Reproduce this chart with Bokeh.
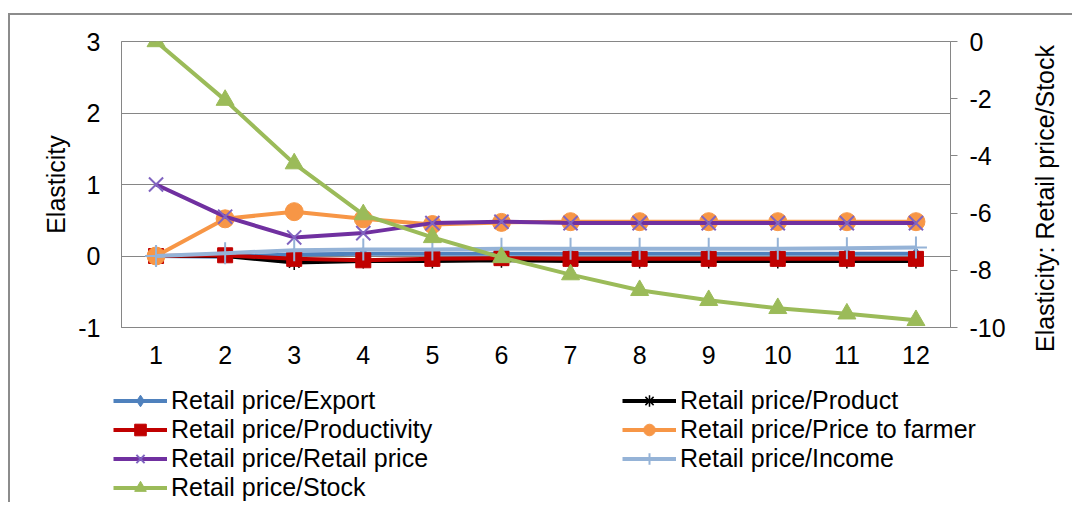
from bokeh.plotting import figure
from bokeh.layouts import column, row
from bokeh.models import Range1d, LinearAxis, FixedTicker, Legend, LegendItem, Label
from bokeh.embed import file_html
from bokeh.resources import INLINE

periods = [1, 2, 3, 4, 5, 6, 7, 8, 9, 10, 11, 12]
export = [0, -0.01, 0.02, 0.03, 0.03, 0.03, 0.03, 0.03, 0.03, 0.03, 0.03, 0.03]
product = [0, 0.0, -0.09, -0.07, -0.07, -0.06, -0.07, -0.07, -0.07, -0.07, -0.07, -0.07]
productivity = [0, 0.01, -0.04, -0.06, -0.04, -0.03, -0.04, -0.04, -0.04, -0.04, -0.04, -0.04]
price_to_farmer = [0, 0.52, 0.62, 0.52, 0.44, 0.47, 0.48, 0.48, 0.48, 0.48, 0.48, 0.48]
retail_price = [1.0, 0.55, 0.26, 0.32, 0.46, 0.48, 0.46, 0.46, 0.46, 0.46, 0.46, 0.46]
income = [0, 0.04, 0.08, 0.09, 0.09, 0.1, 0.1, 0.1, 0.1, 0.1, 0.11, 0.12]
stock = [0, -2.05, -4.27, -6.05, -6.85, -7.55, -8.15, -8.7, -9.05, -9.33, -9.52, -9.75]

left_ticks = [-1, 0, 1, 2, 3]
right_ticks = [-10, -8, -6, -4, -2, 0]
left_title = "Elasticity"
right_title = "Elasticity: Retail price/Stock"

FONT = "Liberation Sans"
FS = "25px"
GRID = "#868686"

def no_align(fig):
    try:
        fig.frame_align = False
    except Exception:
        pass

p = figure(width=1013, height=366, output_backend="svg", toolbar_location=None,
           x_range=Range1d(0.5, 12.5), y_range=Range1d(-1, 3),
           min_border_left=111, min_border_right=73, min_border_top=26,
           min_border_bottom=54)
no_align(p)
p.extra_y_ranges = {"stock": Range1d(-10, 0)}
p.outline_line_color = GRID
p.xgrid.visible = False
p.ygrid.ticker = FixedTicker(ticks=left_ticks)
p.ygrid.grid_line_color = GRID

def style_axis(ax):
    ax.major_label_text_font = FONT
    ax.major_label_text_font_size = FS
    ax.major_label_text_color = "black"
    ax.axis_label_text_font = FONT
    ax.axis_label_text_font_size = FS
    ax.axis_label_text_font_style = "normal"
    ax.axis_label_text_color = "black"
    ax.minor_tick_line_color = None
    ax.axis_line_color = GRID
    ax.major_tick_line_color = GRID

xa = p.xaxis[0]
xa.ticker = FixedTicker(ticks=periods)
style_axis(xa)
xa.major_tick_out = 0
xa.major_tick_in = 0
xa.major_label_standoff = 18

ya = p.yaxis[0]
ya.ticker = FixedTicker(ticks=left_ticks)
style_axis(ya)
ya.major_tick_out = 0
ya.major_tick_in = 0
ya.major_label_standoff = 21
ya.axis_label = left_title
ya.axis_label_standoff = 5
ya.major_label_overrides = {t: str(t) for t in left_ticks}

ra = LinearAxis(y_range_name="stock", ticker=FixedTicker(ticks=right_ticks))
style_axis(ra)
ra.major_tick_out = 7
ra.major_tick_in = 0
ra.major_label_standoff = 12
ra.major_label_overrides = {t: str(t) for t in right_ticks}
p.add_layout(ra, "right")

# narrow strip to the right carrying the secondary-axis title (reads bottom-to-top)
tf = figure(width=42, height=366, output_backend="svg", toolbar_location=None,
            x_range=Range1d(0, 1), y_range=Range1d(0, 1),
            x_axis_location=None, y_axis_location=None,
            min_border_left=0, min_border_right=0, min_border_top=0, min_border_bottom=0)
no_align(tf)
tf.outline_line_color = None
tf.grid.visible = False
tf.add_layout(Label(x=0.5, y=0.5, text=right_title, angle=90, angle_units="deg",
                    text_align="center", text_baseline="middle", text_font=FONT,
                    text_font_size=FS, text_color="black"))

# legend strip below the chart
lf = figure(width=1062, height=121, output_backend="svg", toolbar_location=None,
            x_range=Range1d(-3, -2), y_range=Range1d(-3, -2),
            x_axis_location=None, y_axis_location=None,
            min_border_left=0, min_border_right=0, min_border_top=0, min_border_bottom=0)
no_align(lf)
lf.outline_line_color = None
lf.grid.visible = False

LW = 4
r = {}

def add(name, ys, color, marker, size, fill=True, mlw=1.5, mcolor=None, yr="default"):
    mc = mcolor or color
    pieces = []
    for fig in (p, lf):
        kw = {"y_range_name": yr} if fig is p else {}
        ln = fig.line(periods, ys, line_color=color, line_width=LW, **kw)
        if fill:
            sc = fig.scatter(periods, ys, marker=marker, size=size, fill_color=mc,
                             line_color=mc, line_width=1, **kw)
        else:
            sc = fig.scatter(periods, ys, marker=marker, size=size, fill_color=None,
                             line_color=mc, line_width=mlw, **kw)
        pieces.append([ln, sc])
    r[name] = pieces[1]

add("Retail price/Export", export, "#4F81BD", "diamond", 13)
add("Retail price/Product", product, "#000000", "asterisk", 15, fill=False, mlw=1.5)
add("Retail price/Productivity", productivity, "#C00000", "square", 15)
add("Retail price/Price to farmer", price_to_farmer, "#F79646", "circle", 18)
add("Retail price/Retail price", retail_price, "#7030A0", "x", 20, fill=False, mlw=2, mcolor="#8064C0")
add("Retail price/Income", income, "#95B3D7", "cross", 22, fill=False, mlw=2)
add("Retail price/Stock", stock, "#9BBB59", "triangle", 18, yr="stock")

def make_legend(names, loc):
    leg = Legend(items=[LegendItem(label=n, renderers=r[n]) for n in names],
                 location=loc, orientation="vertical", padding=0, margin=0,
                 border_line_color=None, background_fill_alpha=0,
                 glyph_width=54, glyph_height=29, label_height=29, spacing=0,
                 label_standoff=4, label_text_font=FONT, label_text_font_size=FS,
                 label_text_color="black")
    lf.add_layout(leg)

make_legend(["Retail price/Export", "Retail price/Productivity",
             "Retail price/Retail price", "Retail price/Stock"], (103, 0))
make_legend(["Retail price/Product", "Retail price/Price to farmer",
             "Retail price/Income"], (612, 29))

page = column(row(p, tf, spacing=0), lf, spacing=0,
              styles={"margin-top": "13px", "margin-left": "8px",
                      "border-top": "2px solid #8c8c8c",
                      "border-left": "2px solid #8c8c8c"})

open("out.html", "w").write(file_html(page, INLINE))
